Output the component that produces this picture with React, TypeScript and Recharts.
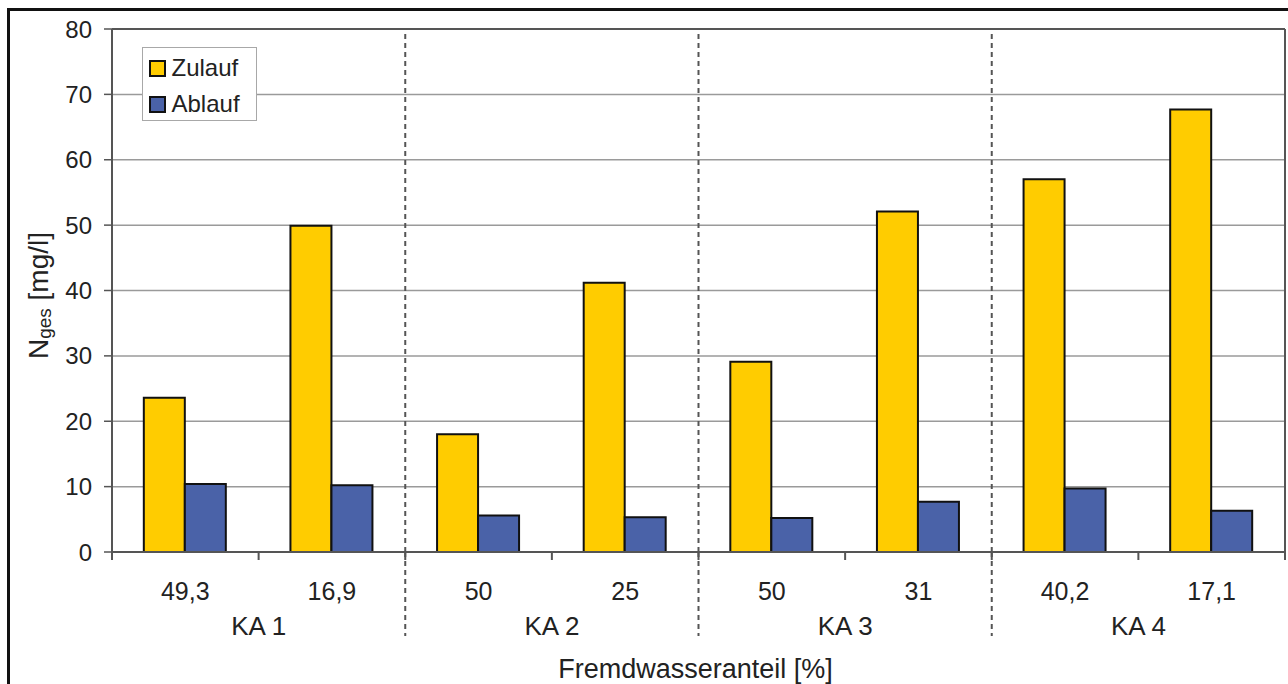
import React from 'react'
import { BarChart, Bar, XAxis, YAxis, CartesianGrid, Legend, ReferenceLine } from 'recharts'

const fremdwasser = ['49,3', '16,9', '50', '25', '50', '31', '40,2', '17,1']
const anlagen = ['KA 1', 'KA 2', 'KA 3', 'KA 4']
const zulauf = [23.6, 49.9, 18.0, 41.2, 29.1, 52.1, 57.0, 67.7]
const ablauf = [10.4, 10.2, 5.6, 5.3, 5.2, 7.7, 9.7, 6.3]
const yTicks = [0, 10, 20, 30, 40, 50, 60, 70, 80]

const FONT = '"Liberation Sans", Arial, sans-serif'
const TEXT = '#222'
const AXIS = '#555'
const GRID = '#9a9a9a'
const YELLOW = '#FFCC00'
const BLUE = '#4A62A8'

const series = [
  { key: 'zulauf', label: 'Zulauf', color: YELLOW },
  { key: 'ablauf', label: 'Ablauf', color: BLUE },
]

// pos: centre of each sample on a helper axis with one unit per plant
const data = fremdwasser.map((f, i) => ({
  id: `${anlagen[Math.floor(i / 2)]}|${f}`,
  pos: i / 2 + 0.25,
  zulauf: zulauf[i],
  ablauf: ablauf[i],
}))

const groupTicks = Array.from({ length: anlagen.length * 4 + 1 }, (_, i) => i / 4)

// eslint-disable-next-line @typescript-eslint/no-explicit-any
const GroupTick = ({ x, y, payload }: any) => {
  const q = Math.round(payload.value * 4)
  if (q % 2 === 1) {
    return (
      <text x={x} y={y + 48} textAnchor="middle" fontFamily={FONT} fontSize={25} fill={TEXT}>
        {fremdwasser[(q - 1) / 2]}
      </text>
    )
  }
  const last = anlagen.length * 4
  return (
    <g>
      <line x1={x} x2={x} y1={y} y2={y + 8} stroke={AXIS} strokeWidth={2} />
      {q % 4 === 2 && (
        <text x={x} y={y + 83} textAnchor="middle" fontFamily={FONT} fontSize={26} fill={TEXT}>
          {anlagen[(q - 2) / 4]}
        </text>
      )}
      {q % 4 === 0 && q > 0 && q < last && (
        <line x1={x} x2={x} y1={y} y2={y + 84} stroke={AXIS} strokeWidth={2} strokeDasharray="5 4" />
      )}
    </g>
  )
}

const LegendBox = () => (
  <div
    style={{
      width: 107,
      height: 70,
      border: '1.5px solid #a8a8a8',
      background: '#fff',
      paddingTop: 2,
      paddingLeft: 5.5,
      fontFamily: FONT,
      fontSize: 24,
      color: TEXT,
      boxSizing: 'content-box',
    }}
  >
    {series.map((s) => (
      <div key={s.key} style={{ display: 'flex', alignItems: 'center', height: 36 }}>
        <span
          style={{
            width: 13,
            height: 13,
            border: '2px solid #111',
            background: s.color,
            marginRight: 6,
            flexShrink: 0,
          }}
        />
        <span style={{ lineHeight: '36px' }}>{s.label}</span>
      </div>
    ))}
  </div>
)

export default function App() {
  return (
    <div style={{ position: 'absolute', left: 0, top: 0, width: 1288, height: 684, overflow: 'hidden', background: '#fff' }}>
      <div
        style={{
          position: 'absolute',
          left: 7,
          top: 8,
          width: 1400,
          height: 800,
          border: '3px solid #111',
        }}
      />
      <div style={{ position: 'absolute', left: 0, top: 0 }}>
        <BarChart
          width={1288}
          height={684}
          data={data}
          margin={{ top: 29, right: 3, left: 0, bottom: 0 }}
          barCategoryGap="21.7%"
          barGap={0}
        >
          <CartesianGrid horizontal vertical={false} stroke={GRID} strokeWidth={1.5} />
          <XAxis dataKey="id" hide height={0} />
          <XAxis
            xAxisId="grp"
            dataKey="pos"
            type="number"
            domain={[0, anlagen.length]}
            ticks={groupTicks}
            allowDataOverflow
            interval={0}
            height={132}
            tickSize={0}
            tickMargin={0}
            tickLine={false}
            axisLine={{ stroke: AXIS, strokeWidth: 2 }}
            tick={<GroupTick />}
            label={{
              // eslint-disable-next-line @typescript-eslint/no-explicit-any
              content: (props: any) => {
                const vb = props.viewBox
                return (
                  <text
                    x={vb.x + vb.width / 2 - 3}
                    y={vb.y + 126}
                    textAnchor="middle"
                    fontFamily={FONT}
                    fontSize={27}
                    fill={TEXT}
                  >
                    Fremdwasseranteil [%]
                  </text>
                )
              },
            }}
          />
          <YAxis
            domain={[0, 80]}
            ticks={yTicks}
            width={112}
            tickSize={8}
            tickMargin={12}
            tick={{ fill: TEXT, fontSize: 24, fontFamily: FONT }}
            tickLine={{ stroke: AXIS, strokeWidth: 1.5 }}
            axisLine={{ stroke: AXIS, strokeWidth: 2 }}
            label={{
              // eslint-disable-next-line @typescript-eslint/no-explicit-any
              content: (props: any) => {
                const vb = props.viewBox
                const cx = vb.x + 48
                const cy = vb.y + vb.height / 2 + 5
                return (
                  <text
                    x={cx}
                    y={cy}
                    transform={`rotate(-90 ${cx} ${cy})`}
                    textAnchor="middle"
                    fontFamily={FONT}
                    fontSize={28}
                    fill={TEXT}
                  >
                    N
                    <tspan fontSize={19} dy={3}>
                      ges
                    </tspan>
                    <tspan dy={-3}> [mg/l]</tspan>
                  </text>
                )
              },
            }}
          />
          <ReferenceLine y={80} stroke={AXIS} strokeWidth={2} />
          <ReferenceLine xAxisId="grp" x={anlagen.length} stroke={AXIS} strokeWidth={2} />
          {[1, 2, 3].map((k) => (
            <ReferenceLine key={k} xAxisId="grp" x={k} stroke={AXIS} strokeWidth={2} strokeDasharray="5 4" />
          ))}
          <Legend
            layout="vertical"
            align="center"
            verticalAlign="middle"
            wrapperStyle={{ left: 142, top: 47, width: 'auto', height: 'auto' }}
            content={<LegendBox />}
          />
          {series.map((s) => (
            <Bar
              key={s.key}
              dataKey={s.key}
              name={s.label}
              fill={s.color}
              stroke="#111"
              strokeWidth={2}
              isAnimationActive={false}
            />
          ))}
        </BarChart>
      </div>
    </div>
  )
}
